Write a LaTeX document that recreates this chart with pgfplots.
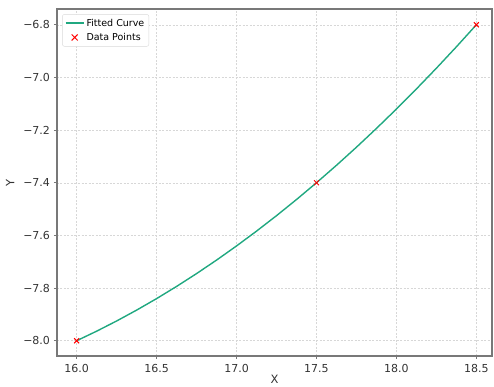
\documentclass[border=0pt]{standalone}
\usepackage{fontspec}
\setmainfont{DejaVu Sans}
\usepackage{pgfplots}
\usetikzlibrary{calc}
\pgfplotsset{compat=1.18}
\definecolor{fitc}{RGB}{32,168,128}
\definecolor{axc}{RGB}{120,120,120}
\definecolor{gridc}{RGB}{215,215,215}
\begin{document}
\begin{tikzpicture}[x=1pt,y=1pt]
\begin{axis}[
  scale only axis,
  width=435pt, height=347pt,
  xmin=15.877, xmax=18.598,
  ymin=-8.058, ymax=-6.74,
  xtick={16,16.5,17,17.5,18,18.5},
  xticklabels={16.0,16.5,17.0,17.5,18.0,18.5},
  ytick={-8,-7.8,-7.6,-7.4,-7.2,-7.0,-6.8},
  yticklabels={−8.0,−7.8,−7.6,−7.4,−7.2,−7.0,−6.8},
  xtick pos=bottom, ytick pos=left,
  tick label style={font=\fontsize{11}{13}\selectfont, text=black!80},
  label style={font=\fontsize{11.5}{13}\selectfont, text=black!80},
  xticklabel style={yshift=-1.5pt},
  yticklabel style={xshift=-0.5pt},
  xlabel={X}, ylabel={Y},
  xlabel style={yshift=4pt},
  ylabel style={yshift=2pt},
  tick align=outside,
  major tick length=3pt,
  axis line style={axc, line width=1.3pt},
  tick style={axc, line width=0.6pt},
  grid=major,
  grid style={gridc, dash pattern=on 2pt off 1.5pt, line width=0.5pt},
  legend style={font=\fontsize{9.5}{11}\selectfont, draw=black!15, rounded corners=2pt, fill=white, inner sep=2.5pt, at={(0.012,0.985)}, anchor=north west, row sep=1.5pt},
  legend cell align=left,
]
\addplot[fitc, line width=1.4pt, no marks,
  legend image code/.code={\draw[fitc, line width=1.6pt] (0pt,0pt) -- (18pt,0pt);}] coordinates {
(16.000,-8.00000) (16.125,-7.96375) (16.250,-7.92500) (16.375,-7.88375)
(16.500,-7.84000) (16.625,-7.79375) (16.750,-7.74500) (16.875,-7.69375)
(17.000,-7.64000) (17.125,-7.58375) (17.250,-7.52500) (17.375,-7.46375)
(17.500,-7.40000) (17.625,-7.33375) (17.750,-7.26500) (17.875,-7.19375)
(18.000,-7.12000) (18.125,-7.04375) (18.250,-6.96500) (18.375,-6.88375)
(18.500,-6.80000)};
\addlegendentry{Fitted Curve}
\addplot[only marks, red, mark=x, mark size=3.5pt, mark options={line width=1pt},
  legend image code/.code={\draw[red, line width=1pt] (9pt,0pt) node{} +(-3pt,-3pt) -- +(3pt,3pt) +(-3pt,3pt) -- +(3pt,-3pt);}] coordinates {
(16,-8) (17.5,-7.4) (18.5,-6.8)};
\addlegendentry{Data Points}
\end{axis}
\pgfresetboundingbox
\path[use as bounding box] ($(current axis.south west)+(-57pt,-31pt)$) rectangle ($(current axis.north east)+(2pt,9pt)$);
\end{tikzpicture}
\end{document}
